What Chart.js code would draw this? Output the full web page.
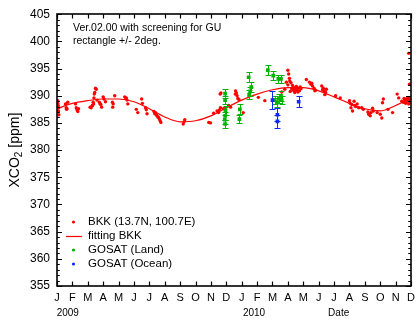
<!DOCTYPE html>
<html>
<head>
<meta charset="utf-8">
<script src="https://cdn.jsdelivr.net/npm/chart.js@4/dist/chart.umd.min.js"></script>
<style>
  html, body { margin: 0; padding: 0; background: #fff; }
  canvas { display: block; }
</style>
</head>
<body>
<canvas id="c" width="420" height="323"></canvas>
<script>
// Month letters along the time axis (Jan 2009 .. Dec 2010, index = months since Jan 2009)
const monthLabels = ['J','F','M','A','M','J','J','A','S','O','N','D',
                     'J','F','M','A','M','J','J','A','S','O','N','D'];
const yearLabels = ['2009', '2010', 'Date'];
const yearLabelMonths = [0.7, 12.8, 18.3];
const noteLines = ['Ver.02.00 with screening for GU', 'rectangle +/- 2deg.'];

// BKK in-situ XCO2 (month index, ppm)
const bkkMonth = [
  0.03,0.05,0.05,0.08,0.10,0.10,0.12,
  0.55,0.60,0.62,0.65,0.70,
  1.20,1.25,1.30,1.35,1.40,
  2.15,2.22,2.30,2.30,2.35,2.38,2.40,2.42,2.45,2.50,2.55,2.60,
  2.75,2.80,2.85,2.90,
  3.00,3.05,3.15,
  3.60,3.62,3.65,3.75,
  4.40,4.48,4.50,4.55,4.60,
  5.15,5.25,5.50,5.55,5.75,5.80,5.85,
  6.30,6.35,6.40,6.45,6.50,6.55,6.60,6.65,6.70,6.75,
  8.20,8.25,8.30,
  9.86,9.97,
  10.18,10.40,10.50,10.55,10.60,10.62,10.65,10.82,10.95,
  11.15,11.28,11.58,11.60,11.65,11.70,11.75,11.82,
  12.10,13.08,13.50,14.60,14.80,14.90,
  15.00,15.00,15.05,15.10,15.12,15.15,15.20,15.25,15.30,15.35,15.40,15.45,15.50,15.55,
  15.60,15.65,15.70,15.75,15.80,15.85,
  16.20,16.40,16.50,16.55,16.60,16.70,16.75,16.80,
  17.20,17.25,17.30,17.35,17.40,17.45,17.50,
  18.10,18.40,
  19.00,19.05,19.10,19.15,19.20,19.30,19.35,19.40,19.50,19.60,19.80,19.90,
  20.20,20.25,20.35,20.40,20.50,20.55,20.80,
  21.00,21.10,21.15,21.20,21.50,21.80,
  22.10,22.20,22.40,22.50,22.55,22.60,22.65,22.70,22.75,22.80,22.85,22.85,22.90,22.90,22.95,23.00
];
const bkkXco2 = [
  388.9,389.1,388.6,388.2,387.8,387.2,386.5,
  388.5,387.8,387.5,387.6,388.8,
  388.5,387.8,387.4,387.1,387.6,
  387.9,387.8,388.2,388.2,388.8,388.5,389.6,390.3,390.6,391.4,391.2,389.2,
  388.8,388.5,388.4,387.9,
  389.8,389.4,388.9,
  388.8,387.9,388.5,390.0,
  389.8,389.5,389.6,389.2,388.5,
  387.5,386.9,389.4,388.6,387.8,387.4,386.7,
  387.1,386.7,386.9,386.5,386.3,386.1,386.0,385.7,385.4,385.1,
  384.8,385.2,385.6,
  385.1,385.0,
  386.8,387.2,386.9,387.4,390.3,387.8,390.5,387.6,387.8,
  388.2,387.9,390.3,390.9,390.5,390.0,389.5,389.3,
  386.9,389.7,389.1,390.7,391.2,392.5,
  394.7,392.0,394.0,393.2,392.7,390.8,392.4,391.3,391.9,391.0,391.5,390.6,391.2,391.7,
  391.0,390.7,391.4,390.9,391.6,391.3,
  393.0,392.5,392.1,392.3,391.8,391.4,390.9,391.0,
  391.8,391.1,391.4,390.9,390.2,390.6,391.2,
  390.0,389.6,
  389.1,388.6,387.8,388.4,387.2,389.0,388.2,388.0,388.5,387.8,387.8,387.5,
  387.0,386.6,386.3,386.9,387.7,387.2,386.9,
  386.6,385.9,388.7,389.4,387.5,386.9,
  390.3,389.6,389.0,388.8,389.5,389.2,388.6,389.4,389.0,389.6,388.5,397.8,389.3,392.1,388.8,389.7
];

// Fitted seasonal curve for BKK
const fitMonth = [0,1,2,3,4,5,6,7,8,9,10,11,12,13,14,15,16,17,18,19,20,21,22,23];
const fitXco2  = [387.6,388.6,389.1,389.4,389.4,388.9,387.6,386.1,385.2,385.4,386.3,387.8,
                  389.2,390.3,391.1,391.5,391.5,390.9,389.8,388.6,387.6,387.2,388.2,389.6];

// GOSAT retrievals over land: month, XCO2, error
const landMonth = [10.92,10.92,10.95,10.92,10.90,10.92, 11.88,11.85, 12.45,12.62,12.55,12.48,
                   13.70, 14.05, 14.38,14.55, 14.15,14.30,14.42,14.55,14.60];
const landXco2  = [390.4,389.2,387.3,386.3,385.6,384.8, 387.5,385.7, 393.4,391.6,390.8,390.2,
                   394.7, 393.7, 393.1,393.1, 389.2,388.8,389.5,390.0,389.2];
const landErr   = [0.9,0.8,0.8,0.8,0.8,0.8, 0.9,0.8, 0.9,1.0,0.8,0.8,
                   0.9, 0.8, 0.8,0.8, 0.8,0.8,0.8,0.9,0.8];

// GOSAT retrievals over ocean: month, XCO2, error
const oceanMonth = [14.00, 14.32, 14.32, 15.70];
const oceanXco2  = [389.2, 386.5, 385.3, 388.9];
const oceanErr   = [1.6, 1.2, 1.2, 1.0];

const FONT = '"Liberation Sans", Arial, Helvetica, sans-serif';
const RED = '#ff0000', GREEN = '#00b400', BLUE = '#0a2aff';

const pts = (xs, ys) => xs.map((m, i) => ({ x: m, y: ys[i] }));

// Error bars, frame, inward ticks, legend and free text
const decorations = {
  id: 'decorations',
  afterDatasetsDraw(chart) {
    const { ctx, scales: { x, y } } = chart;
    ctx.save();
    ctx.lineWidth = 1;
    chart.data.datasets.forEach(ds => {
      if (!ds.errors) return;
      ctx.strokeStyle = ds.borderColor;
      ds.data.forEach((p, i) => {
        const px = Math.round(x.getPixelForValue(p.x)) + 0.5;
        const yt = Math.round(y.getPixelForValue(p.y + ds.errors[i])) + 0.5;
        const yb = Math.round(y.getPixelForValue(p.y - ds.errors[i])) + 0.5;
        ctx.beginPath();
        ctx.moveTo(px, yt); ctx.lineTo(px, yb);
        ctx.moveTo(px - 3, yt); ctx.lineTo(px + 3, yt);
        ctx.moveTo(px - 3, yb); ctx.lineTo(px + 3, yb);
        ctx.stroke();
      });
    });
    ctx.restore();
  },
  afterDraw(chart) {
    const { ctx, chartArea: a, scales: { x, y } } = chart;
    ctx.save();
    // frame
    ctx.strokeStyle = '#000';
    ctx.lineWidth = 1.6;
    const L = Math.round(a.left), R = Math.round(a.right);
    const T = Math.round(a.top), B = Math.round(a.bottom);
    ctx.strokeRect(L, T, R - L, B - T);
    // inward ticks
    ctx.lineWidth = 1.2;
    ctx.beginPath();
    for (let v = x.min; v <= x.max; v++) {
      const px = Math.round(x.getPixelForValue(v)) + 0.5;
      ctx.moveTo(px, B); ctx.lineTo(px, B - 4.5);
      ctx.moveTo(px, T); ctx.lineTo(px, T + 4.5);
    }
    for (let v = y.min; v <= y.max; v++) {
      const py = Math.round(y.getPixelForValue(v)) + 0.5;
      const len = v % 5 === 0 ? 5 : 2.8;
      ctx.moveTo(L, py); ctx.lineTo(L + len, py);
      ctx.moveTo(R, py); ctx.lineTo(R - len, py);
    }
    ctx.stroke();

    ctx.fillStyle = '#000';
    // year / axis name row
    ctx.font = '10px ' + FONT;
    ctx.textAlign = 'center';
    ctx.textBaseline = 'middle';
    yearLabels.forEach((t, i) => ctx.fillText(t, x.getPixelForValue(yearLabelMonths[i]), 313));

    // y axis title with subscript
    ctx.save();
    ctx.translate(19, (a.top + a.bottom) / 2);
    ctx.rotate(-Math.PI / 2);
    ctx.textBaseline = 'alphabetic';
    ctx.textAlign = 'left';
    const big = '14px ' + FONT, small = '10px ' + FONT;
    ctx.font = big; const w1 = ctx.measureText('XCO').width;
    ctx.font = small; const w2 = ctx.measureText('2').width;
    ctx.font = big; const w3 = ctx.measureText(' [ppm]').width;
    let sx = -(w1 + w2 + w3) / 2;
    ctx.font = big; ctx.fillText('XCO', sx, 0); sx += w1;
    ctx.font = small; ctx.fillText('2', sx, 3); sx += w2;
    ctx.font = big; ctx.fillText(' [ppm]', sx, 0);
    ctx.restore();

    // note text
    ctx.font = '10.5px ' + FONT;
    ctx.textAlign = 'left';
    ctx.textBaseline = 'middle';
    noteLines.forEach((t, i) => ctx.fillText(t, 73, 28.5 + i * 12.4));

    // legend
    ctx.font = '11.5px ' + FONT;
    chart.data.datasets.forEach((ds, i) => {
      const cy = 222 + i * 14;
      if (ds.showLine) {
        ctx.strokeStyle = ds.borderColor;
        ctx.lineWidth = 1.2;
        ctx.beginPath(); ctx.moveTo(66, cy + 0.5); ctx.lineTo(82, cy + 0.5); ctx.stroke();
      } else {
        ctx.fillStyle = ds.backgroundColor;
        ctx.beginPath(); ctx.arc(73.5, cy, 1.6, 0, Math.PI * 2); ctx.fill();
      }
      ctx.fillStyle = '#000';
      ctx.fillText(ds.label, 88, cy);
    });
    ctx.restore();
  }
};

new Chart(document.getElementById('c'), {
  type: 'scatter',
  data: {
    datasets: [
      { label: 'BKK (13.7N, 100.7E)', data: pts(bkkMonth, bkkXco2), order: 4,
        backgroundColor: RED, borderColor: RED, pointRadius: 1.7, pointBorderWidth: 0 },
      { label: 'fitting BKK', data: pts(fitMonth, fitXco2), order: 3, showLine: true,
        cubicInterpolationMode: 'monotone', borderColor: RED, backgroundColor: RED,
        borderWidth: 1.2, pointRadius: 0 },
      { label: 'GOSAT (Land)', data: pts(landMonth, landXco2), errors: landErr, order: 2,
        backgroundColor: GREEN, borderColor: GREEN, pointStyle: 'rect', pointRadius: 2.6, pointBorderWidth: 0 },
      { label: 'GOSAT (Ocean)', data: pts(oceanMonth, oceanXco2), errors: oceanErr, order: 1,
        backgroundColor: BLUE, borderColor: BLUE, pointStyle: 'rect', pointRadius: 2.6, pointBorderWidth: 0 }
    ]
  },
  options: {
    responsive: false,
    animation: false,
    devicePixelRatio: 1,
    layout: { padding: { top: 13, right: 6, left: 0, bottom: 0 } },
    plugins: { legend: { display: false }, tooltip: { enabled: false } },
    scales: {
      x: {
        type: 'linear', min: 0, max: 23,
        afterFit(s) { s.height = 37; },
        grid: { display: false, drawTicks: false },
        border: { display: false },
        ticks: {
          stepSize: 1, autoSkip: false, maxRotation: 0, padding: 5, color: '#000',
          font: { family: FONT, size: 11 },
          callback: v => monthLabels[v]
        }
      },
      y: {
        min: 355, max: 405,
        afterFit(s) { s.width = 57; },
        grid: { display: false, drawTicks: false },
        border: { display: false },
        ticks: { stepSize: 5, padding: 7, color: '#000', font: { family: FONT, size: 12 } }
      }
    }
  },
  plugins: [decorations]
});
</script>
</body>
</html>
